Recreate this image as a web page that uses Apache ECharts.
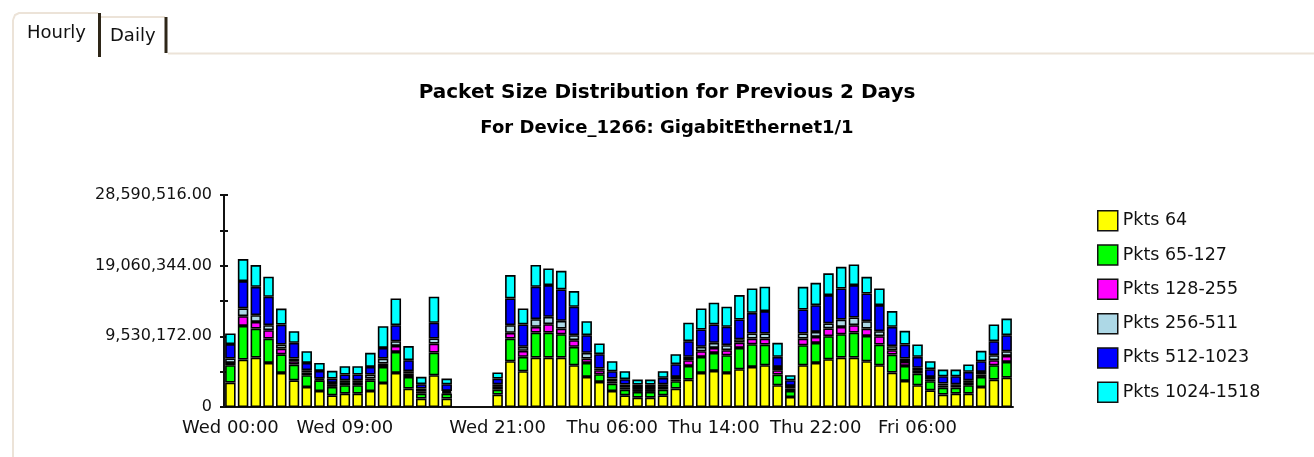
<!DOCTYPE html>
<html>
<head>
<meta charset="UTF-8">
<title>Packet Size Distribution</title>
<style>
  html, body { margin: 0; padding: 0; background: #fff; }
  #chart { width: 1314px; height: 457px; }
</style>
</head>
<body>
<div id="chart"></div>
<script src="https://cdn.jsdelivr.net/npm/echarts@6/dist/echarts.min.js"></script>
<script>
// hourly categories, Wed 00:00 .. Fri 13:00
var hours = [
  'Wed 00:00','Wed 01:00','Wed 02:00','Wed 03:00','Wed 04:00','Wed 05:00','Wed 06:00','Wed 07:00',
  'Wed 08:00','Wed 09:00','Wed 10:00','Wed 11:00','Wed 12:00','Wed 13:00','Wed 14:00','Wed 15:00',
  'Wed 16:00','Wed 17:00','Wed 18:00','Wed 19:00','Wed 20:00','Wed 21:00','Wed 22:00','Wed 23:00',
  'Thu 00:00','Thu 01:00','Thu 02:00','Thu 03:00','Thu 04:00','Thu 05:00','Thu 06:00','Thu 07:00',
  'Thu 08:00','Thu 09:00','Thu 10:00','Thu 11:00','Thu 12:00','Thu 13:00','Thu 14:00','Thu 15:00',
  'Thu 16:00','Thu 17:00','Thu 18:00','Thu 19:00','Thu 20:00','Thu 21:00','Thu 22:00','Thu 23:00',
  'Fri 00:00','Fri 01:00','Fri 02:00','Fri 03:00','Fri 04:00','Fri 05:00','Fri 06:00','Fri 07:00',
  'Fri 08:00','Fri 09:00','Fri 10:00','Fri 11:00','Fri 12:00','Fri 13:00'
];
var shownLabels = ['Wed 00:00','Wed 09:00','Wed 21:00','Thu 06:00','Thu 14:00','Thu 22:00','Fri 06:00'];
var yTicks = [0, 9530172, 19060344, 28590516];

// packets per hour, in millions (null = no data)
var pkts64 = [3.29,6.39,6.66,5.94,4.59,3.60,2.70,2.16,1.58,1.80,
  1.80,2.16,3.24,4.59,2.48,1.13,4.28,1.13,null,null,
  null,1.67,6.17,4.82,6.66,6.66,6.66,5.63,4.05,3.38,
  2.16,1.58,1.26,1.26,1.58,2.48,3.69,4.59,4.86,4.59,
  5.09,5.40,5.63,2.93,1.35,5.63,5.94,6.44,6.66,6.66,
  6.17,5.63,4.64,3.51,2.93,2.25,1.67,1.80,1.80,2.70,
  3.69,3.96];
var pkts65 = [2.34,4.55,3.92,3.29,2.52,2.12,1.58,1.44,1.13,1.13,
  1.13,1.44,2.16,2.84,1.58,0.68,3.06,0.68,null,null,
  null,0.68,3.06,1.94,3.38,3.38,3.15,2.48,1.89,1.04,
  0.99,0.77,0.77,0.77,0.77,0.99,1.85,2.16,2.43,2.39,
  2.88,3.06,2.79,1.44,0.81,2.70,2.70,3.11,3.15,3.38,
  3.42,2.79,2.43,2.03,1.58,1.22,0.95,0.81,1.13,1.35,
  1.94,2.12];
var pkts128 = [0.32,1.31,0.90,1.13,0.77,0.45,0.36,0.14,0.27,0.32,
  0.32,0.23,0.45,0.81,0.45,0.32,1.22,0.18,null,null,
  null,0.36,0.77,0.81,0.77,1.13,0.77,0.90,0.59,0.54,
  0.32,0.32,0.27,0.27,0.36,0.27,0.77,0.77,0.68,0.68,
  0.72,0.77,0.81,0.59,0.32,0.90,0.81,1.04,0.99,0.99,
  0.99,1.13,0.59,0.54,0.36,0.27,0.27,0.23,0.32,0.32,
  0.68,0.81];
var pkts256 = [0.59,1.04,0.90,0.68,0.54,0.36,0.32,0.09,0.27,0.36,
  0.36,0.54,0.68,0.63,0.32,0.36,0.68,0.18,null,null,
  null,0.36,1.04,0.54,1.04,0.99,1.04,0.68,0.77,0.23,
  0.36,0.36,0.27,0.27,0.36,0.32,0.45,0.59,0.68,0.68,
  0.45,0.68,0.68,0.45,0.36,0.68,0.68,0.68,0.99,1.04,
  0.99,0.68,0.54,0.45,0.41,0.32,0.27,0.23,0.36,0.36,
  0.68,0.63];
var pkts512 = [1.94,3.69,3.83,3.83,2.70,2.12,0.99,1.04,0.59,0.77,
  0.77,1.04,1.44,2.16,1.49,0.59,2.12,0.90,null,null,
  null,0.77,3.60,3.02,4.37,4.28,4.23,3.83,2.39,1.94,
  0.99,0.72,0.45,0.45,0.86,1.71,2.12,2.34,2.48,2.48,
  2.66,2.79,3.02,1.35,0.77,3.24,3.60,3.83,4.19,4.37,
  3.74,3.51,2.61,1.89,1.49,1.04,0.99,1.08,1.13,1.44,
  1.89,2.16];
var pkts1024 = [1.44,2.97,2.93,2.70,2.16,1.58,1.58,1.08,1.04,1.13,
  1.13,1.89,2.93,3.60,1.89,0.99,3.51,0.77,null,null,
  null,0.81,3.15,2.16,2.93,2.25,2.52,2.12,1.89,1.44,
  1.35,1.08,0.68,0.68,0.90,1.35,2.48,2.84,2.93,2.70,
  3.29,3.29,3.29,1.89,0.68,3.06,3.02,2.93,2.93,2.79,
  2.25,2.25,2.12,1.85,1.67,1.08,0.90,0.90,0.99,1.40,
  2.25,2.25];

var seriesNames = ['Pkts 64','Pkts 65-127','Pkts 128-255','Pkts 256-511','Pkts 512-1023','Pkts 1024-1518'];
var seriesColors = ['#ffff00','#00ff00','#ff00ff','#add8e6','#0000ff','#00ffff'];
var seriesData = [pkts64, pkts65, pkts128, pkts256, pkts512, pkts1024];

var FONT = 'DejaVu Sans';
var tabLine = '#ece3d8';
var tabEdge = '#2e2618';

function toCount(arr) {
  return arr.map(function (v) { return v == null ? '-' : Math.round(v * 1e6); });
}

function showLabel(index, value) {
  return shownLabels.indexOf(value) >= 0;
}

var myChart = echarts.init(document.getElementById('chart'));

var series = [];
for (var i = 0; i < seriesNames.length; i++) {
  series.push({
    name: seriesNames[i],
    type: 'bar',
    stack: 'pkts',
    barWidth: 10.5,
    data: toCount(seriesData[i]),
    itemStyle: { color: seriesColors[i], borderColor: '#000', borderWidth: 1.6 }
  });
}

var option = {
  animation: false,
  backgroundColor: '#fff',
  graphic: [
    // tab panel
    { type: 'line', shape: { x1: 13, y1: 20, x2: 13, y2: 457 }, style: { stroke: tabLine, lineWidth: 2 } },
    { type: 'polyline', shape: { points: [[13, 20], [15, 15], [19, 13], [98, 13]] }, style: { stroke: tabLine, lineWidth: 2, fill: null } },
    { type: 'line', shape: { x1: 99.5, y1: 13, x2: 99.5, y2: 57 }, style: { stroke: tabEdge, lineWidth: 3 } },
    { type: 'line', shape: { x1: 101, y1: 17, x2: 165, y2: 17 }, style: { stroke: tabLine, lineWidth: 2 } },
    { type: 'line', shape: { x1: 166, y1: 17, x2: 166, y2: 53 }, style: { stroke: tabEdge, lineWidth: 3 } },
    { type: 'line', shape: { x1: 168, y1: 53.5, x2: 1314, y2: 53.5 }, style: { stroke: tabLine, lineWidth: 2 } },
    { type: 'text', x: 27, y: 33, style: { text: 'Hourly', font: '18px "DejaVu Sans"', fill: '#111', textVerticalAlign: 'middle' } },
    { type: 'text', x: 110, y: 36, style: { text: 'Daily', font: '18px "DejaVu Sans"', fill: '#111', textVerticalAlign: 'middle' } },
    // titles
    { type: 'text', x: 667, y: 93, style: { text: 'Packet Size Distribution for Previous 2 Days', font: 'bold 20px "DejaVu Sans"', fill: '#000', textAlign: 'center', textVerticalAlign: 'middle' } },
    { type: 'text', x: 667, y: 128, style: { text: 'For Device_1266: GigabitEthernet1/1', font: 'bold 18px "DejaVu Sans"', fill: '#000', textAlign: 'center', textVerticalAlign: 'middle' } }
  ],
  legend: {
    data: seriesNames,
    orient: 'vertical',
    left: 1092,
    top: 205,
    itemWidth: 20,
    itemHeight: 20,
    itemGap: 12.8,
    icon: 'rect',
    itemStyle: { borderWidth: 1.5, borderColor: '#111' },
    textStyle: { fontFamily: FONT, fontSize: 17.5, color: '#111' }
  },
  grid: { left: 224, right: 301, top: 195, bottom: 50 },
  xAxis: {
    type: 'category',
    data: hours,
    axisLine: { lineStyle: { color: '#111', width: 2 } },
    axisTick: { interval: showLabel, alignWithLabel: true, length: 5, lineStyle: { color: '#111', width: 2 } },
    axisLabel: { interval: showLabel, fontFamily: FONT, fontSize: 18, color: '#111', margin: 12 }
  },
  yAxis: [
    {
      type: 'value',
      min: 0,
      max: 28590516,
      interval: 4765086,
      splitLine: { show: false },
      axisLine: { show: true, lineStyle: { color: '#111', width: 2 } },
      axisTick: { show: true, length: 4, lineStyle: { color: '#111', width: 2 } },
      axisLabel: {
        fontFamily: FONT, fontSize: 16, color: '#111', margin: 12,
        formatter: function (v) {
          if (yTicks.indexOf(v) < 0) return '';
          if (v === 0) return '0';
          return v.toLocaleString('en-US', { minimumFractionDigits: 2, maximumFractionDigits: 2 });
        }
      }
    },
    {
      type: 'value',
      position: 'left',
      min: 0,
      max: 28590516,
      interval: 4765086,
      splitLine: { show: false },
      axisLine: { show: false },
      axisTick: { show: true, inside: true, length: 4, lineStyle: { color: '#111', width: 2 } },
      axisLabel: { show: false }
    }
  ],
  series: series
};

myChart.setOption(option);
</script>
</body>
</html>
